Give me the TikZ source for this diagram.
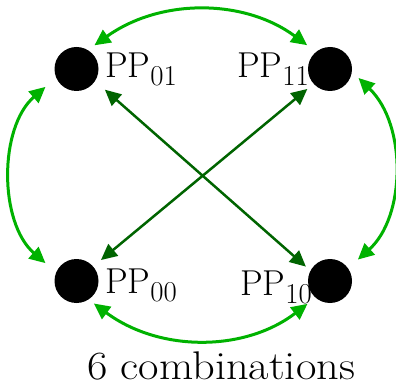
\documentclass[tikz,border=0pt]{standalone}
\usetikzlibrary{arrows.meta}
\definecolor{lgreen}{RGB}{0,178,0}
\definecolor{dgreen}{RGB}{0,100,0}
\newcommand{\ppsub}[1]{PP\raisebox{-8pt}{\scalebox{0.8}{#1}}}
\tikzset{
  dot/.style={circle,fill=black,minimum size=44pt,inner sep=0pt},
  lbl/.style={inner sep=0pt,font=\fontsize{36}{43}\selectfont},
  cpt/.style={inner sep=0pt,font=\fontsize{40}{48}\selectfont},
  larc/.style={lgreen,line width=3pt,{Triangle[length=16pt,width=15pt]}-{Triangle[length=16pt,width=15pt]}},
  darr/.style={dgreen,line width=2.5pt,{Triangle[length=16pt,width=15pt]}-{Triangle[length=16pt,width=15pt]}}
}
\begin{document}
\begin{tikzpicture}[x=1pt,y=1pt]
\useasboundingbox (0,0) rectangle (396,386);
\node[dot] (d01) at (76.5,317) {};
\node[dot] (d11) at (330,317) {};
\node[dot] (d00) at (76.5,105) {};
\node[dot] (d10) at (330,105) {};
\node[lbl,anchor=base west] (l01) at (105,308) {\ppsub{01}};
\node[lbl,anchor=base east] (l11) at (309,308) {\ppsub{11}};
\node[lbl,anchor=base west] (l00) at (105,93) {\ppsub{00}};
\node[lbl,anchor=base east] (l10) at (312,91) {\ppsub{10}};
\node[cpt,anchor=base] (cap) at (221,7) {\scalebox{1.11}[1]{6 combinations}};
% green arcs
\draw[larc,shorten <=8pt,shorten >=11pt] (d01.59) to[bend left=36] (d11.129);
\draw[larc,shorten <=14pt,shorten >=14pt] (d01.203) to[bend right=49] (d00.157);
\draw[larc,shorten <=9pt,shorten >=13pt] (d11.-7) to[bend left=47] (d10.35);
\draw[larc,shorten <=6.5pt,shorten >=10pt] (d00.-57) to[bend right=37] (d10.229);
% dark diagonals
\draw[darr,shorten <=13pt,shorten >=6pt] (d01.-33) -- (d10.152);
\draw[darr,shorten <=8pt,shorten >=10pt] (d11.222) -- (d00.41);
\end{tikzpicture}
\end{document}
